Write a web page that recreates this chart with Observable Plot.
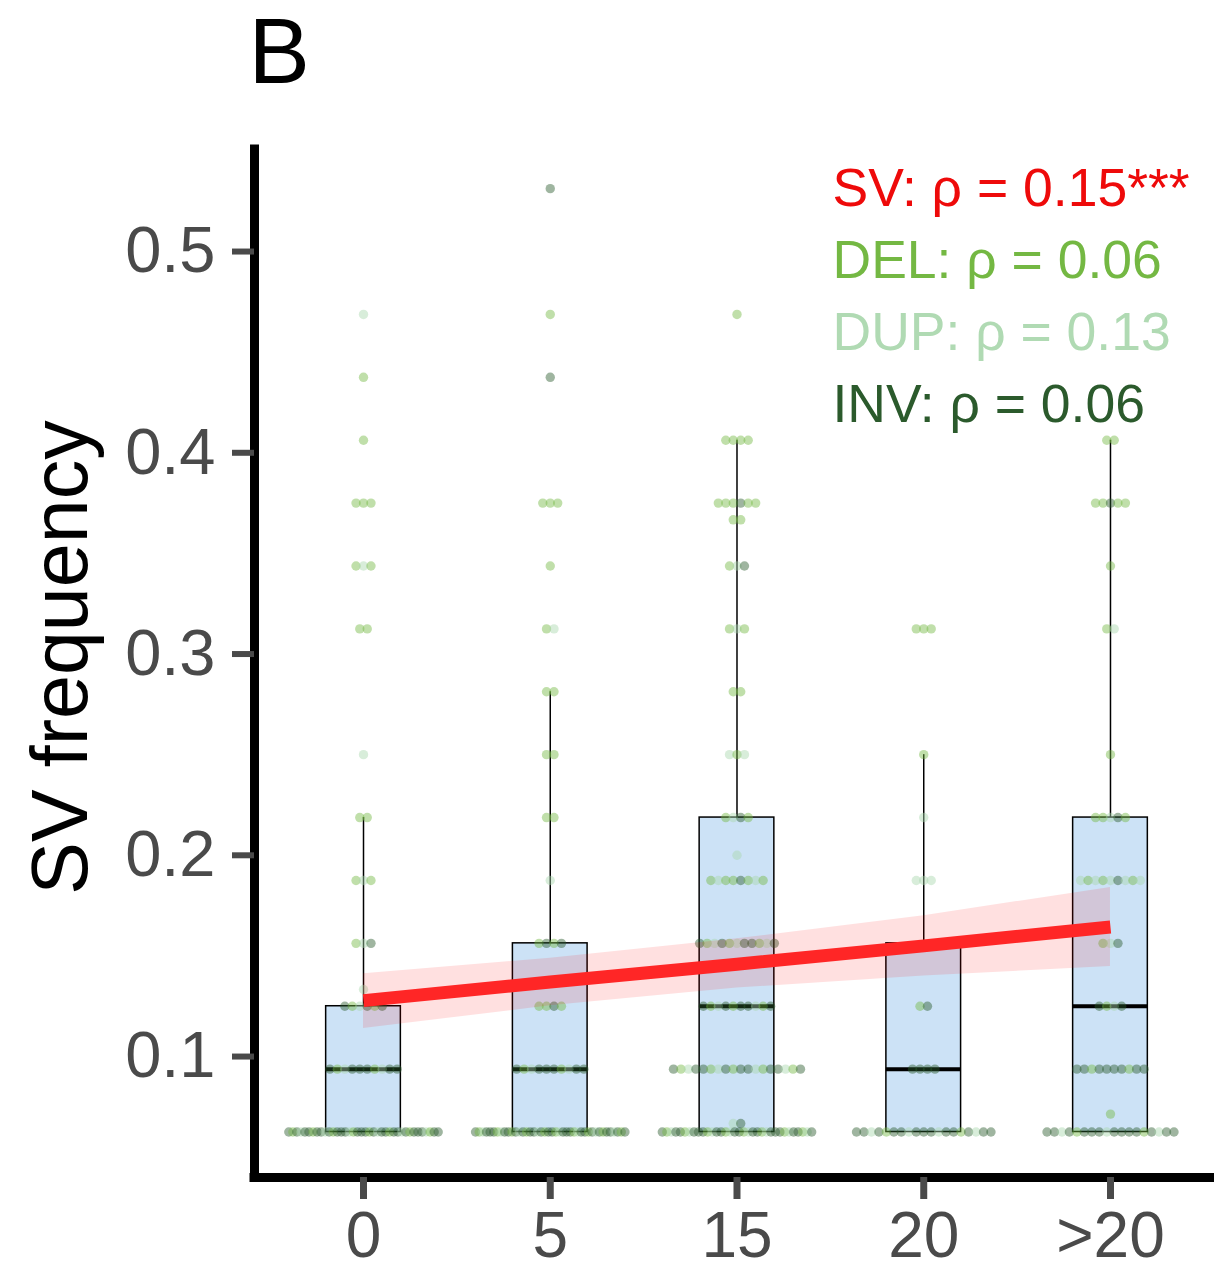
<!DOCTYPE html>
<html><head><meta charset="utf-8">
<script src="https://cdn.jsdelivr.net/npm/d3@7"></script>
<script src="https://cdn.jsdelivr.net/npm/@observablehq/plot@0.6"></script>
<style>body{margin:0;background:#fff;} svg{display:block}</style>
</head><body><div id="chart"></div>
<script>
// ---- data ----
const categories = ["0", "5", "15", "20", ">20"];
const svTypes = ["DEL", "DUP", "INV"];
const typeColors = ["#74b843", "#a9d8ad", "#2b5a2c"];

// rows: [SV frequency, nDEL, nDUP, nINV]
const rows_0 = [[0.46875,0,1,0],[0.4375,1,0,0],[0.40625,1,0,0],[0.375,3,0,0],[0.34375,2,1,0],[0.3125,2,0,0],[0.25,0,1,0],[0.21875,2,0,0],[0.1875,2,1,0],[0.15625,1,1,1],[0.1333,0,1,0],[0.125,2,1,3],[0.09375,2,2,6],[0.0625,8,6,24]];
const rows_5 = [[0.53125,0,0,1],[0.46875,1,0,0],[0.4375,0,0,1],[0.375,3,0,0],[0.34375,1,0,0],[0.3125,1,1,0],[0.28125,2,0,0],[0.25,2,0,0],[0.21875,2,0,0],[0.1875,0,1,0],[0.15625,2,0,2],[0.125,3,0,1],[0.09375,2,2,6],[0.0625,10,8,24]];
const rows_15 = [[0.46875,1,0,0],[0.40625,4,0,0],[0.375,5,0,1],[0.3667,2,0,0],[0.34375,1,1,1],[0.3125,2,1,0],[0.28125,2,0,0],[0.25,1,2,0],[0.21875,2,1,1],[0.2,0,1,0],[0.1875,5,2,1],[0.15625,3,3,5],[0.125,3,2,5],[0.09375,5,4,9],[0.0667,0,1,1],[0.0625,8,8,18]];
const rows_20 = [[0.3125,3,0,0],[0.25,1,0,0],[0.21875,0,1,0],[0.1875,0,3,0],[0.125,1,0,1],[0.09375,0,0,4],[0.0625,2,4,13]];
const rows_gt20 = [[0.40625,2,0,0],[0.375,4,0,1],[0.34375,1,0,0],[0.3125,1,1,0],[0.25,1,0,0],[0.21875,3,1,1],[0.1875,3,5,1],[0.15625,1,1,1],[0.125,1,1,2],[0.09375,2,0,8],[0.0714,1,0,0],[0.0625,2,3,13]];
const rowsByCategory = [rows_0, rows_5, rows_15, rows_20, rows_gt20];

// box statistics per category
const boxLow = [0.0625, 0.0625, 0.0625, 0.0625, 0.0625];
const boxQ1 = [0.0625, 0.0625, 0.0625, 0.0625, 0.0625];
const boxMedian = [0.09375, 0.09375, 0.125, 0.09375, 0.125];
const boxQ3 = [0.125, 0.15625, 0.21875, 0.15625, 0.21875];
const boxHigh = [0.21875, 0.28125, 0.40625, 0.25, 0.40625];

// linear fit (all SV) with confidence band
const fitX = [0, 1, 2, 3, 4];
const fitY = [0.1278, 0.1370, 0.1459, 0.1550, 0.1644];
const fitLo = [0.1139, 0.1252, 0.1340, 0.1400, 0.1447];
const fitHi = [0.1412, 0.1488, 0.1585, 0.1700, 0.1840];

const legendLabels = ["SV: ρ = 0.15***", "DEL: ρ = 0.06", "DUP: ρ = 0.13", "INV: ρ = 0.06"];
const legendColors = ["#ee0a0a", "#74b843", "#b0dab3", "#2b5a2c"];

const yTicks = [0.1, 0.2, 0.3, 0.4, 0.5];
const xDomain = [-0.5837, 4.557];
const yDomain = [0.0399, 0.5507];

// ---- build tables ----
const spacing = 0.04, maxHalf = 0.4;
const points = [];
rowsByCategory.forEach((rows, ci) => {
  rows.forEach(([v, ...counts]) => {
    const items = [];
    counts.forEach((c, t) => { for (let k = 0; k < c; k++) items.push({t, key: (k + 0.5) / c}); });
    items.sort((a, b) => a.key - b.key || a.t - b.t);
    const n = items.length;
    const half = n > 1 ? Math.min(maxHalf, (n - 1) * spacing / 2) : 0;
    items.forEach((it, i) => {
      const off = n > 1 ? -half + i * (2 * half / (n - 1)) : 0;
      points.push({x: ci + off, y: v, type: svTypes[it.t]});
    });
  });
});
const boxes = categories.map((c, i) => ({i, lo: boxLow[i], q1: boxQ1[i], med: boxMedian[i], q3: boxQ3[i], hi: boxHigh[i]}));
const fit = fitX.map((x, i) => ({x, y: fitY[i], lo: fitLo[i], hi: fitHi[i]}));
const bw = 0.2;

const font = "'Liberation Sans', Arial, Helvetica, sans-serif";

const chart = Plot.plot({
  width: 1214,
  height: 1272,
  marginTop: 149,
  marginBottom: 95,
  marginLeft: 254,
  marginRight: 0,
  style: {fontFamily: font, background: "#fff"},
  x: {type: "linear", domain: xDomain, axis: null},
  y: {type: "linear", domain: yDomain, axis: null},
  color: {domain: svTypes, range: typeColors},
  marks: [
    Plot.rect(boxes, {x1: d => d.i - bw, x2: d => d.i + bw, y1: "q1", y2: "q3", fill: "#cce2f6", stroke: "#000", strokeWidth: 1.5}),
    Plot.ruleX(boxes, {x: "i", y1: "q3", y2: "hi", stroke: "#000", strokeWidth: 1.5}),
    Plot.ruleX(boxes, {x: "i", y1: "lo", y2: "q1", stroke: "#000", strokeWidth: 1.5}),
    Plot.ruleY(boxes, {y: "med", x1: d => d.i - bw, x2: d => d.i + bw, stroke: "#000", strokeWidth: 4}),
    Plot.dot(points, {x: "x", y: "y", fill: "type", r: 4.7, fillOpacity: 0.45, stroke: null}),
    Plot.areaY(fit, {x: "x", y1: "lo", y2: "hi", fill: "#ff0000", fillOpacity: 0.12}),
    Plot.line(fit, {x: "x", y: "y", stroke: "#ff2626", strokeWidth: 13, strokeLinecap: "butt"}),
    Plot.ruleX([xDomain[0]], {stroke: "#000", strokeWidth: 9, strokeLinecap: "square"}),
    Plot.ruleY([yDomain[0]], {stroke: "#000", strokeWidth: 9, strokeLinecap: "square"}),
    Plot.axisY({ticks: yTicks, tickFormat: d3.format(".1f"), tickSize: 22, tickPadding: 17, fontSize: 65, color: "#4a4a4a", strokeWidth: 6, label: null}),
    Plot.axisX({ticks: fitX, tickFormat: i => categories[i], tickSize: 22, tickPadding: 12, fontSize: 64, color: "#4a4a4a", strokeWidth: 7, label: null}),
    Plot.text(["SV frequency"], {text: d => d, frameAnchor: "left", rotate: -90, dx: -168, dy: -6, fontSize: 79, lineAnchor: "bottom", textAnchor: "middle", fill: "#000"}),
    Plot.text(["B"], {text: d => d, frameAnchor: "top-left", dx: -6, dy: -67, fontSize: 92, lineAnchor: "bottom", textAnchor: "start", fill: "#000"}),
    ...legendLabels.map((lab, i) => Plot.text([lab], {text: d => d, frameAnchor: "top-left", dx: 578, dy: 56 + i * 72.3, fontSize: 53.5, lineAnchor: "bottom", textAnchor: "start", fill: legendColors[i]}))
  ]
});
document.getElementById("chart").append(chart);
</script>
</body></html>
